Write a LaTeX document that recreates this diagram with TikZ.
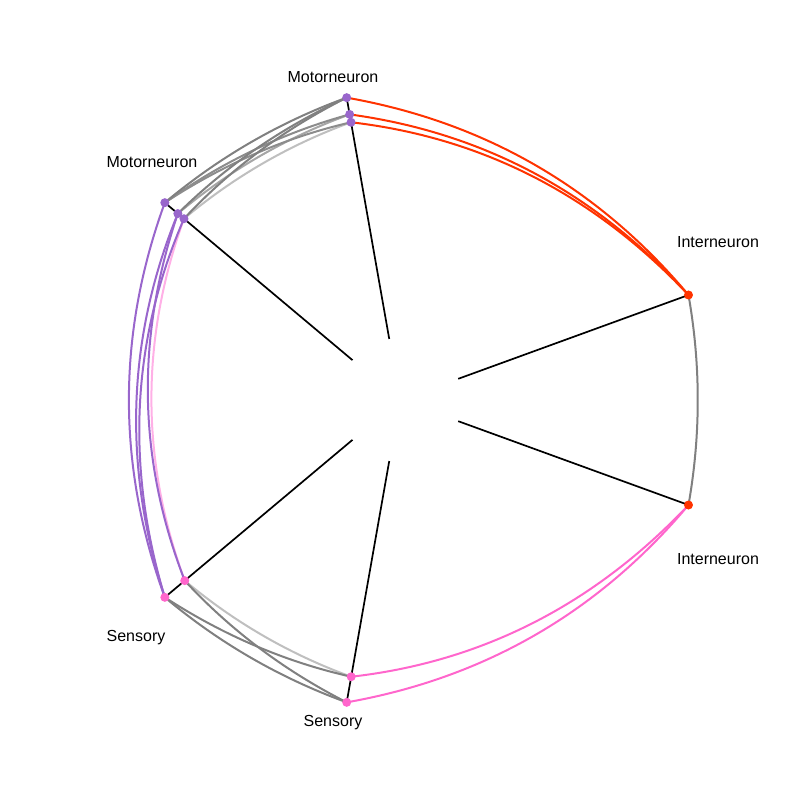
\documentclass[tikz,border=0pt]{standalone}
\usepackage{fontspec}
\setmainfont{Liberation Sans}
\usepackage{tikz}
\usetikzlibrary{calc,backgrounds}

\definecolor{motorcol}{HTML}{9966CC}
\definecolor{intercol}{HTML}{FF3300}
\definecolor{sensecol}{HTML}{FF66CC}
\definecolor{softpink}{HTML}{FFB0E6}

\tikzset{
  dot/.style={circle, inner sep=0pt, minimum size=9pt},
  motor/.style={dot, fill=motorcol},
  inter/.style={dot, fill=intercol},
  sense/.style={dot, fill=sensecol},
  axisline/.style={black, line width=1.7pt},
  edge/.style={line width=2pt},
  lbl/.style={font=\fontsize{16}{19}\selectfont}
}

\begin{document}
\begin{tikzpicture}[line cap=round]
  \useasboundingbox (-400pt,-400pt) rectangle (400pt,400pt);

  \newcommand{\hiveaxis}[1]{% #1=angle
    \draw[axisline] (#1:62pt) -- (#1:307pt);
  }

  \newcommand{\hiveedge}[4]{% #1=style, #2=from, #3=to, #4=control point
    \draw[edge,#1] (#2.center) .. controls ($(#2.center)!2/3!(#4)$)
      and ($(#3.center)!2/3!(#4)$) .. (#3.center);
  }

  % nodes on the axes
  \node[motor] (A1) at (100:307pt) {};
  \node[motor] (A2) at (100:290pt) {};
  \node[motor] (A3) at (100:282pt) {};
  \node[motor] (B1) at (140:307pt) {};
  \node[motor] (B2) at (140:290pt) {};
  \node[motor] (B3) at (140:282pt) {};
  \node[inter] (I1) at (20:307pt) {};
  \node[inter] (I2) at (-20:307pt) {};
  \node[sense] (C1) at (220:307pt) {};
  \node[sense] (C2) at (220:281pt) {};
  \node[sense] (D1) at (260:307pt) {};
  \node[sense] (D2) at (260:281pt) {};

  \begin{pgfonlayer}{background}
    \hiveaxis{100}
    \hiveaxis{140}
    \hiveaxis{20}
    \hiveaxis{-20}
    \hiveaxis{220}
    \hiveaxis{260}

    % motor -- motor
    \hiveedge{black!25}{A3}{B3}{120:282pt}
    \hiveedge{black!35}{A2}{B2}{120:290pt}
    \hiveedge{black!45}{A2}{B1}{120:298.5pt}
    \hiveedge{black!45}{A3}{B1}{120:294.5pt}
    \hiveedge{black!50}{A1}{B2}{120:298.5pt}
    \hiveedge{black!50}{A1}{B3}{120:294.5pt}
    \hiveedge{black!50}{A1}{B1}{120:307pt}

    % motor -- inter
    \hiveedge{intercol}{A1}{I1}{60:307pt}
    \hiveedge{intercol}{A2}{I1}{60:298.5pt}
    \hiveedge{intercol}{A3}{I1}{60:294.5pt}

    % inter -- inter
    \hiveedge{black!50}{I1}{I2}{0:307pt}

    % inter -- sensory
    \hiveedge{sensecol}{I2}{D1}{300:307pt}
    \hiveedge{sensecol}{I2}{D2}{300:294pt}

    % motor -- sensory
    \hiveedge{softpink}{B3}{C2}{180:281.5pt}
    \hiveedge{motorcol}{B2}{C2}{180:285.5pt}
    \hiveedge{motorcol}{B3}{C1}{180:294.5pt}
    \hiveedge{motorcol}{B2}{C1}{180:298.5pt}
    \hiveedge{motorcol}{B1}{C1}{180:307pt}

    % sensory -- sensory
    \hiveedge{black!25}{C2}{D2}{240:281pt}
    \hiveedge{black!50}{C2}{D1}{240:294pt}
    \hiveedge{black!50}{C1}{D2}{240:294pt}
    \hiveedge{black!50}{C1}{D1}{240:307pt}
  \end{pgfonlayer}

  % axis labels
  \node[lbl] (motortop) at (-67pt,323pt) {Motorneuron};
  \node[lbl] (motorleft) at (-248pt,238pt) {Motorneuron};
  \node[lbl] (interup) at (318pt,158pt) {Interneuron};
  \node[lbl] (interlow) at (318pt,-159pt) {Interneuron};
  \node[lbl] (senseleft) at (-264pt,-238pt) {Sensory};
  \node[lbl] (sensebot) at (-67pt,-323pt) {Sensory};
\end{tikzpicture}
\end{document}
